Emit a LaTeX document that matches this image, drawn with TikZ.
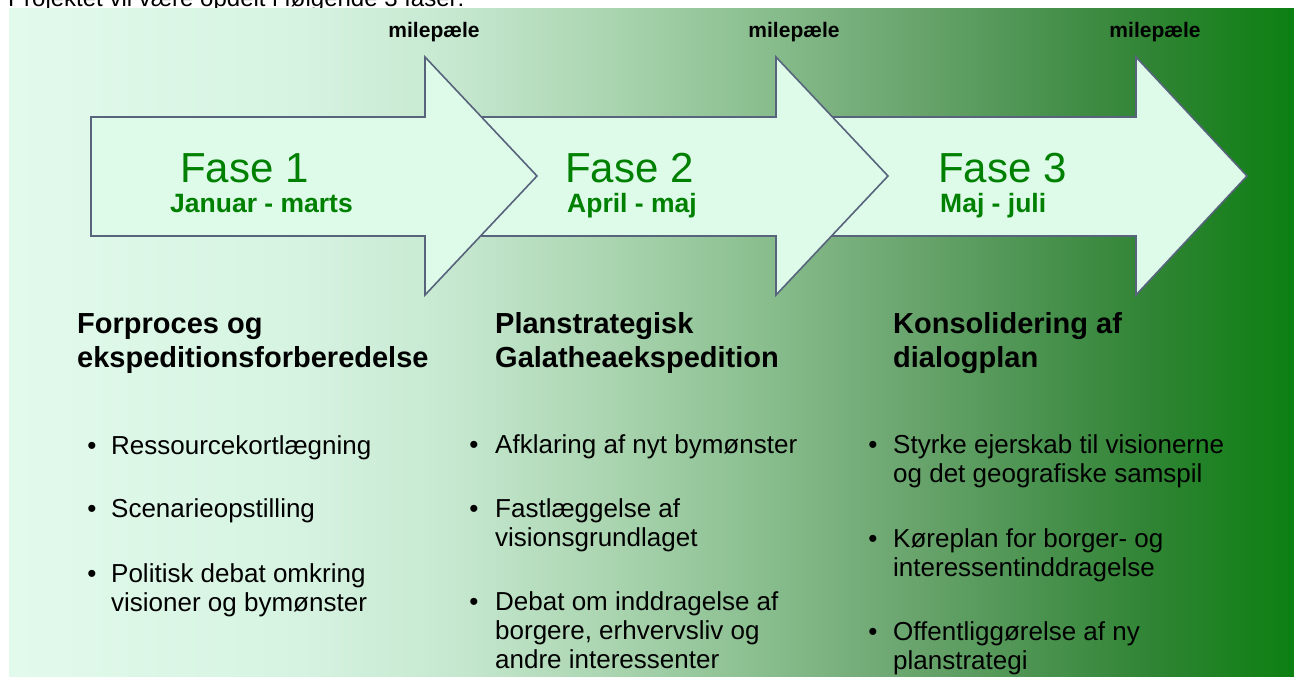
\documentclass[tikz,border=0pt]{standalone}
\usepackage{fontspec}
\setmainfont{Liberation Sans}
\usetikzlibrary{positioning}

\definecolor{arrowfill}{RGB}{222,251,234}
\definecolor{arrowline}{RGB}{88,100,124}
\definecolor{fasegreen}{RGB}{0,128,0}
\definecolor{bgA}{RGB}{226,250,236}
\definecolor{bgB}{RGB}{214,243,225}
\definecolor{bgC}{RGB}{198,232,208}
\definecolor{bgD}{RGB}{172,214,178}
\definecolor{bgE}{RGB}{140,192,145}
\definecolor{bgF}{RGB}{108,166,112}
\definecolor{bgG}{RGB}{72,145,77}
\definecolor{bgH}{RGB}{48,132,52}
\definecolor{bgI}{RGB}{12,128,18}

% background fade, left to right
\pgfdeclarehorizontalshading{bgfade}{100bp}{color(0bp)=(bgA); color(25bp)=(bgA);
  color(36.3bp)=(bgB); color(42.2bp)=(bgC); color(48bp)=(bgD); color(53.8bp)=(bgE);
  color(59.7bp)=(bgF); color(65.5bp)=(bgG); color(69.4bp)=(bgH); color(75bp)=(bgI);
  color(100bp)=(bgI)}

% multi-line nodes sit on the baseline of their last line
\tikzset{
  phasearrow/.style={draw=arrowline, fill=arrowfill, line width=1.6pt, line join=miter},
  fase/.style={anchor=base west, inner sep=0pt, text=fasegreen, font=\fontsize{42}{46}\selectfont},
  periode/.style={anchor=base west, inner sep=0pt, text=fasegreen, font=\bfseries\fontsize{26.5}{30}\selectfont},
  milestone/.style={anchor=base, inner sep=0pt, font=\bfseries\fontsize{21}{24}\selectfont},
  heading/.style={anchor=base west, inner sep=0pt, align=left, font=\bfseries\fontsize{29}{34}\selectfont},
  item/.style={anchor=base west, inner sep=0pt, align=left, font=\fontsize{26}{29}\selectfont},
  dot/.style={anchor=base, inner sep=0pt, font=\fontsize{26}{29}\selectfont}
}

\begin{document}
\begin{tikzpicture}[x=1pt, y=-1pt]
    \useasboundingbox (0,0) rectangle (1294,677);
    \clip (0,0) rectangle (1294,677);
    \node[item, font=\fontsize{24}{28}\selectfont] (intro) at (8,7) {Projektet vil være opdelt i følgende 3 faser:};
    \shade[shading=bgfade] (9,9) rectangle (1294,677);

    % the three phases, last one drawn first
    \draw[phasearrow] (830,117) -- (1136,117) -- (1136,57) -- (1247,176) -- (1136,295) -- (1136,236) -- (830,236) -- cycle;
    \draw[phasearrow] (470,117) -- (776,117) -- (776,57) -- (888,176) -- (776,295) -- (776,236) -- (470,236) -- cycle;
    \draw[phasearrow] (91,117) -- (425,117) -- (425,57) -- (537,176) -- (425,295) -- (425,236) -- (91,236) -- cycle;

    \node[milestone] (ms1) at (434,38) {milepæle};
    \node[milestone] (ms2) at (794,38) {milepæle};
    \node[milestone] (ms3) at (1155,38) {milepæle};

    \node[fase] (fase1) at (180,182) {Fase 1};
    \node[periode] (per1) at (170,212) {Januar - marts};
    \node[fase] (fase2) at (565,182) {Fase 2};
    \node[periode] (per2) at (567,212) {April - maj};
    \node[fase] (fase3) at (938,182) {Fase 3};
    \node[periode] (per3) at (940,212) {Maj - juli};

    \node[heading] (head1) at (77,367) {Forproces og\\ekspeditionsforberedelse};
    \node[heading] (head2) at (495,367) {Planstrategisk\\Galatheaekspedition};
    \node[heading] (head3) at (893,367) {Konsolidering af\\dialogplan};

    % fase 1
    \node[dot] (d11) at (92,454) {•}; \node[item] (i11) at (111,454) {Ressourcekortlægning};
    \node[dot] (d12) at (92,517) {•}; \node[item] (i12) at (111,517) {Scenarieopstilling};
    \node[dot] (d13) at (92,582) {•}; \node[item] (i13) at (111,611) {Politisk debat omkring\\visioner og bymønster};

    % fase 2
    \node[dot] (d21) at (474,453) {•}; \node[item] (i21) at (495,453) {Afklaring af nyt bymønster};
    \node[dot] (d22) at (474,517) {•}; \node[item] (i22) at (495,546) {Fastlæggelse af\\visionsgrundlaget};
    \node[dot] (d23) at (474,610) {•}; \node[item] (i23) at (495,668) {Debat om inddragelse af\\borgere, erhvervsliv og\\andre interessenter};

    % fase 3
    \node[dot] (d31) at (873,453) {•}; \node[item] (i31) at (893,482) {Styrke ejerskab til visionerne\\og det geografiske samspil};
    \node[dot] (d32) at (873,547) {•}; \node[item] (i32) at (893,576) {Køreplan for borger- og\\interessentinddragelse};
    \node[dot] (d33) at (873,640) {•}; \node[item] (i33) at (893,669) {Offentliggørelse af ny\\planstrategi};
\end{tikzpicture}
\end{document}
